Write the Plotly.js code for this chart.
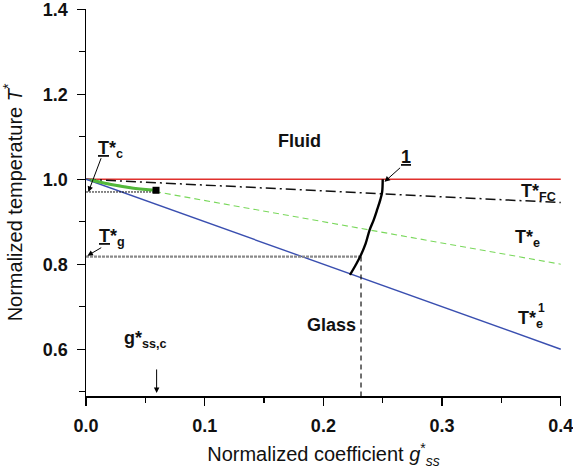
<!DOCTYPE html>
<html>
<head>
<meta charset="utf-8">
<script src="https://cdn.plot.ly/plotly-3.0.1.min.js"></script>
<style>html,body{margin:0;padding:0;background:#fff;}#chart{width:573px;height:470px;}</style>
</head>
<body>
<div id="chart"></div>
<script>
// ---- data ----
var tcX = [0, 0.4];           var tcY = [1.0, 1.0];          // T*c (red)
var fcX = [0, 0.4];           var fcY = [1.0, 0.945];        // T*FC (dash-dot)
var teX = [0, 0.4];           var teY = [1.0, 0.80];         // T*e (green dashed)
var te1X = [0, 0.4];          var te1Y = [1.0, 0.60];        // T*e1 (blue)
var greenX = [0.004, 0.02, 0.04, 0.059]; var greenY = [0.998, 0.988, 0.979, 0.974];
var squareX = [0.059];        var squareY = [0.974];
var tcDotX = [0, 0.059];      var tcDotY = [0.970, 0.970];
var tgX = [0, 0.231];         var tgY = [0.818, 0.818];
var vDashX = [0.2317, 0.2317]; var vDashY = [0.818, 0.49];
var c1X = [0.2224, 0.227, 0.231, 0.2355, 0.239, 0.2425, 0.2455, 0.248, 0.2495, 0.250];
var c1Y = [0.775, 0.797, 0.818, 0.848, 0.881, 0.905, 0.930, 0.952, 0.970, 1.000];
var xTicks = [0, 0.1, 0.2, 0.3, 0.4];
var yTicks = [0.6, 0.8, 1.0, 1.2, 1.4];

var traces = [
  {x: tcX, y: tcY, mode: 'lines', line: {color: '#e0302c', width: 1.4}},
  {x: fcX, y: fcY, mode: 'lines', line: {color: '#111', width: 1.5, dash: '10px,4px,2px,4px'}},
  {x: teX, y: teY, mode: 'lines', line: {color: '#7ad85c', width: 1.1, dash: '6px,4px'}},
  {x: te1X, y: te1Y, mode: 'lines', line: {color: '#3a4fb0', width: 1.4}},
  {x: tcDotX, y: tcDotY, mode: 'lines', line: {color: '#111', width: 1, dash: '2px,1px'}},
  {x: tgX, y: tgY, mode: 'lines', line: {color: '#8a8a8a', width: 2.2, dash: '3px,1px'}},
  {x: vDashX, y: vDashY, mode: 'lines', line: {color: '#111', width: 1.2, dash: '5px,4px'}},
  {x: greenX, y: greenY, mode: 'lines', line: {color: '#52b83a', width: 3, shape: 'spline'}},
  {x: squareX, y: squareY, mode: 'markers', marker: {color: '#000', size: 7, symbol: 'square'}},
  {x: c1X, y: c1Y, mode: 'lines', line: {color: '#000', width: 2.4, shape: 'spline'}}
];

var bf = {family: 'Liberation Sans, Arial, sans-serif', size: 18, color: '#111'};
function lab(x, y, t, extra) {
  var a = {x: x, y: y, xref: 'x', yref: 'y', text: t, showarrow: false, font: bf};
  for (var k in extra) a[k] = extra[k];
  return a;
}
function arr(x, y, ax, ay) {
  return {x: x, y: y, ax: ax, ay: ay, xref: 'x', yref: 'y', axref: 'x', ayref: 'y',
          text: '', showarrow: true, arrowhead: 2, arrowsize: 1.1, arrowwidth: 1, arrowcolor: '#000'};
}

var annotations = [
  lab(0.180, 1.090, '<b>Fluid</b>'),
  lab(0.207, 0.656, '<b>Glass</b>'),
  lab(0.021, 1.069, '<b><u>T</u>*<sub>c</sub></b>'),
  lab(0.022, 0.864, '<b><u>T</u>*<sub>g</sub></b>'),
  lab(0.2695, 1.052, '<b><u>1</u></b>'),
  lab(0.3645, 0.968, '<b>T*<sub>FC</sub></b>', {xanchor: 'left'}),
  lab(0.3600, 0.860, '<b>T*<sub>e</sub></b>', {xanchor: 'left'}),
  lab(0.3625, 0.669, '<b>T*<sub>e</sub></b>', {xanchor: 'left'}),
  lab(0.3840, 0.698, '<b>1</b>', {font: {family: bf.family, size: 12, color: '#111'}}),
  lab(0.0505, 0.622, '<b>g*<sub>ss,c</sub></b>'),
  arr(0.002, 0.970, 0.0132, 1.053),
  arr(0.0012, 0.820, 0.0141, 0.841),
  arr(0.2515, 0.994, 0.2659, 1.030),
  arr(0.0595, 0.497, 0.0595, 0.556)
];

var axisCommon = {
  showline: true, linecolor: '#000', linewidth: 1.5, mirror: false,
  ticks: 'outside', ticklen: 8, tickwidth: 1.3, tickcolor: '#000',
  showgrid: false, zeroline: false, tickformat: '.1f',
  tickfont: {family: 'Liberation Sans, Arial, sans-serif', size: 18, color: '#111', weight: 'bold'},
  ticklabelstandoff: 5, ticklabeloverflow: 'allow'
};

var layout = {
  width: 573, height: 470,
  margin: {l: 86, r: 12, t: 9, b: 74},
  paper_bgcolor: '#fff', plot_bgcolor: '#fff',
  showlegend: false,
  font: {family: 'Liberation Sans, Arial, sans-serif'},
  xaxis: Object.assign({}, axisCommon, {
    range: [0, 0.4002], tickvals: xTicks,
    minor: {dtick: 0.05, tick0: 0, ticklen: 5, tickwidth: 1.2, tickcolor: '#000', ticks: 'outside', showgrid: false},
    title: {text: 'Normalized coefficient <i>g</i><sup>*</sup><sub><i>ss</i></sub>', font: {size: 20, color: '#111'}, standoff: 12}
  }),
  yaxis: Object.assign({}, axisCommon, {
    range: [0.49, 1.4005], tickvals: yTicks,
    minor: {tickvals: [0.5, 0.7, 0.9, 1.1, 1.3], ticklen: 6, tickwidth: 1.2, tickcolor: '#000', ticks: 'outside', showgrid: false},
    title: {text: 'Normalized temperature <i>T</i><sup>*</sup>', font: {size: 20, color: '#111'}, standoff: 15}
  }),
  annotations: annotations
};

Plotly.newPlot('chart', traces, layout, {displayModeBar: false, staticPlot: true});
</script>
</body>
</html>
